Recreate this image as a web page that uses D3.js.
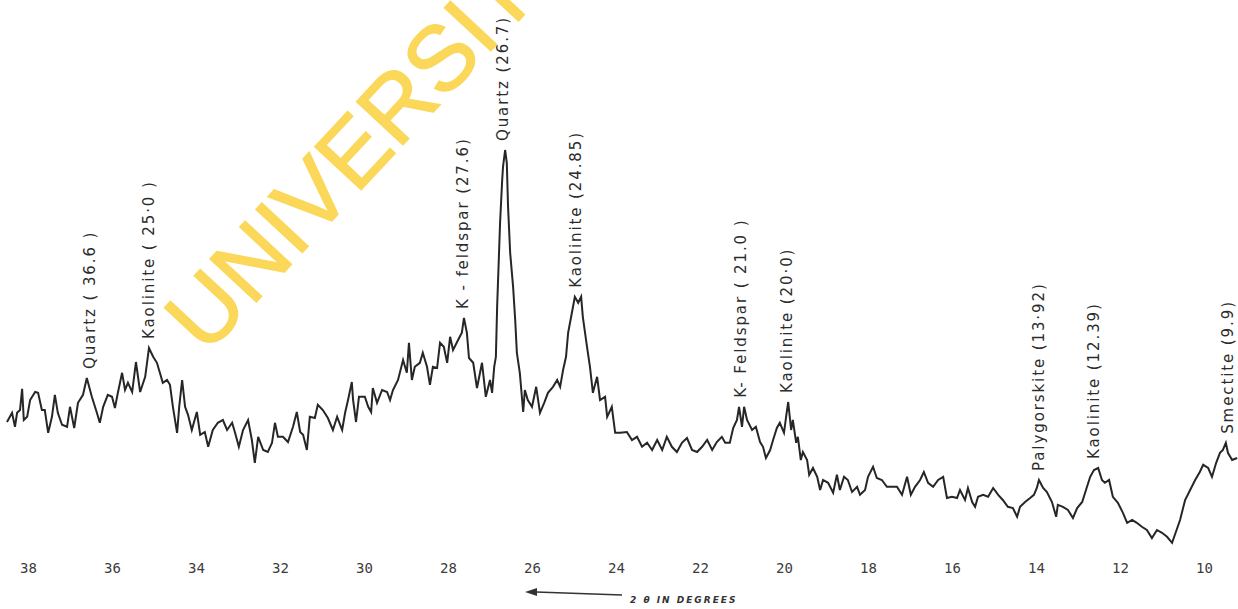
<!DOCTYPE html>
<html>
<head>
<meta charset="utf-8">
<script src="https://cdn.jsdelivr.net/npm/d3@7"></script>
<style>
body { margin: 0; background: #fff; }
svg { display: block; }
</style>
</head>
<body>
<div id="chart"></div>
<script>
var width = 1238, height = 609;

// diffractogram trace, 2-theta (deg) vs relative intensity
var twoTheta = [
    38.50, 38.38, 38.31, 38.26, 38.19, 38.14, 38.10, 38.02, 37.95, 37.83, 37.76, 37.67, 37.60, 37.52, 37.43, 37.36, 37.29, 37.19, 37.07, 37.00,
    36.90, 36.81, 36.69, 36.60, 36.48, 36.36, 36.29, 36.21, 36.10, 36.00, 35.93, 35.86, 35.76, 35.69, 35.62, 35.52, 35.43, 35.33, 35.21, 35.12,
    35.02, 34.93, 34.86, 34.79, 34.69, 34.62, 34.55, 34.45, 34.40, 34.33, 34.26, 34.19, 34.10, 33.98, 33.90, 33.79, 33.71, 33.60, 33.48, 33.36,
    33.26, 33.14, 33.07, 32.98, 32.88, 32.76,
    32.67, 32.60, 32.52, 32.40, 32.29, 32.19, 32.12, 32.05, 31.93, 31.81, 31.69, 31.60, 31.52, 31.45, 31.36, 31.29, 31.17, 31.10, 30.98, 30.86,
    30.74, 30.64, 30.52, 30.45, 30.38, 30.29, 30.26, 30.19, 30.12, 29.98, 29.90, 29.83, 29.79, 29.69, 29.57, 29.45, 29.38, 29.31, 29.19, 29.07,
    28.98, 28.93, 28.86, 28.79, 28.67, 28.60, 28.50, 28.43, 28.36, 28.26, 28.19, 28.10, 28.02, 27.95, 27.88, 27.76, 27.67, 27.62, 27.55, 27.50,
    27.40, 27.31, 27.19, 27.10, 27.00,
    26.95, 26.90, 26.86, 26.83, 26.76, 26.71, 26.69, 26.64, 26.60, 26.57, 26.52, 26.45, 26.40, 26.36, 26.29, 26.21, 26.17, 26.10, 26.00, 25.90,
    25.81, 25.71, 25.62, 25.50, 25.40, 25.33, 25.26, 25.19, 25.14, 25.05, 24.98, 24.90, 24.83, 24.79, 24.69, 24.62, 24.55, 24.45, 24.38, 24.26,
    24.21, 24.10, 24.02, 23.90, 23.74, 23.62, 23.50, 23.38, 23.26, 23.14, 23.02, 22.90, 22.79, 22.67, 22.55, 22.43, 22.31, 22.19, 22.07, 21.95,
    21.83, 21.71, 21.60, 21.48,
    21.40, 21.29, 21.21, 21.12, 21.07, 21.00, 20.95, 20.88, 20.76, 20.67, 20.57, 20.50, 20.43, 20.33, 20.26, 20.17, 20.10, 20.00, 19.95, 19.90,
    19.83, 19.79, 19.71, 19.67, 19.60, 19.55, 19.45, 19.40, 19.31, 19.21, 19.14, 19.07, 18.95, 18.83, 18.74, 18.67, 18.57, 18.48, 18.38, 18.26,
    18.19, 18.07, 18.00, 17.88, 17.79, 17.67, 17.55, 17.43, 17.31, 17.19, 17.07, 16.98, 16.88, 16.76, 16.67, 16.57, 16.45, 16.33, 16.21, 16.12,
    16.00, 15.88, 15.81, 15.69, 15.62, 15.52,
    15.45, 15.38, 15.26, 15.14, 15.02, 14.90, 14.79, 14.67, 14.55, 14.45, 14.38, 14.26, 14.14, 14.05, 13.98, 13.93, 13.83, 13.74, 13.62, 13.52,
    13.48, 13.36, 13.24, 13.12, 13.02, 12.90, 12.81, 12.71, 12.62, 12.52, 12.43, 12.36, 12.26, 12.17, 12.05, 11.93, 11.83, 11.71, 11.60, 11.48,
    11.36, 11.24, 11.12, 11.00, 10.88, 10.76, 10.67, 10.57, 10.45, 10.33, 10.21, 10.10, 10.02, 9.90, 9.81, 9.71, 9.62, 9.55, 9.48, 9.43,
    9.33, 9.21
];
var intensity = [
    31.5, 33.8, 30.3, 33.8, 34.5, 39.8, 32.0, 32.8, 37.0, 39.0, 38.8, 34.5, 34.5, 28.8, 32.8, 38.3, 33.8, 30.8, 30.3, 35.3,
    30.0, 36.3, 38.3, 42.5, 37.8, 33.8, 31.3, 35.3, 38.3, 37.8, 35.0, 38.8, 43.8, 39.5, 41.3, 39.0, 46.5, 39.0, 42.8, 50.0,
    47.8, 46.3, 43.8, 41.3, 42.0, 40.8, 35.3, 28.8, 35.3, 42.0, 35.3, 33.3, 29.5, 34.0, 28.3, 29.0, 25.3, 29.5, 31.3, 32.0,
    29.5, 31.3, 28.8, 25.3, 29.5, 32.0,
    27.0, 21.3, 27.8, 24.5, 24.0, 26.3, 31.3, 27.8, 27.8, 26.5, 30.3, 34.0, 29.0, 28.3, 24.5, 32.8, 32.5, 35.8, 34.5, 32.5,
    29.5, 32.8, 29.5, 33.8, 37.0, 41.5, 37.0, 31.5, 37.8, 37.8, 35.3, 34.0, 40.0, 36.3, 39.5, 39.0, 37.0, 39.5, 42.0, 47.0,
    43.8, 51.3, 42.0, 45.3, 46.3, 48.8, 45.3, 40.8, 45.3, 45.0, 51.3, 50.3, 46.3, 52.8, 49.5, 52.0, 53.8, 57.5, 53.8, 47.5,
    46.3, 40.0, 46.3, 37.8, 42.0,
    38.8, 45.3, 47.8, 60.3, 81.3, 92.0, 95.3, 99.5, 96.3, 85.3, 73.8, 65.3, 57.0, 48.8, 43.8, 34.0, 39.5, 37.0, 35.3, 40.3,
    33.8, 36.3, 38.8, 40.3, 42.0, 40.3, 44.5, 47.8, 53.8, 58.8, 62.8, 61.3, 62.8, 57.8, 50.3, 45.3, 38.8, 42.8, 37.0, 37.8,
    32.8, 35.3, 28.8, 28.8, 29.0, 27.0, 27.8, 25.3, 26.3, 24.5, 27.0, 24.5, 27.8, 25.3, 24.0, 26.3, 27.5, 24.5, 24.0, 25.3,
    27.0, 24.5, 26.5, 27.8,
    26.3, 26.3, 30.0, 32.0, 35.3, 30.3, 35.3, 32.0, 29.5, 30.3, 26.5, 25.3, 22.5, 24.5, 27.0, 30.0, 31.3, 28.8, 32.8, 36.5,
    29.5, 32.0, 26.3, 27.8, 22.0, 24.0, 22.0, 18.3, 20.0, 17.8, 14.5, 17.0, 16.3, 13.8, 18.3, 14.5, 17.8, 17.0, 14.0, 15.3,
    13.3, 14.5, 17.8, 20.3, 17.5, 17.0, 15.3, 15.3, 15.3, 13.3, 17.8, 13.3, 15.3, 17.0, 19.0, 16.3, 15.3, 17.0, 17.8, 12.5,
    12.8, 12.5, 14.5, 12.0, 15.0, 11.5,
    10.3, 12.8, 13.3, 12.8, 15.0, 13.3, 12.0, 10.3, 10.0, 7.8, 10.3, 11.5, 12.5, 13.3, 15.0, 17.0, 15.0, 14.0, 11.5, 7.8,
    10.8, 10.3, 9.5, 7.5, 10.0, 11.5, 14.5, 17.8, 19.5, 20.0, 17.0, 16.3, 17.0, 12.8, 11.3, 8.8, 6.3, 7.0, 6.3, 5.3,
    4.5, 2.5, 4.5, 3.8, 2.8, 1.3, 4.0, 7.0, 12.0, 14.5, 17.0, 19.0, 20.8, 20.0, 17.8, 21.3, 23.8, 24.5, 26.3, 23.8,
    22.0, 22.5
];

var tickValues = [38, 36, 34, 32, 30, 28, 26, 24, 22, 20, 18, 16, 14, 12, 10];

// peak annotations
var peakNames = ["Quartz ( 36.6 )", "Kaolinite ( 25·0 )", "K - feldspar (27.6)", "Quartz (26.7)", "Kaolinite (24.85)",
    "K- Feldspar ( 21.0 )", "Kaolinite (20·0)", "Palygorskite (13·92)", "Kaolinite (12.39)", "Smectite (9.9)"];
var peakAngles = [36.52, 35.12, 27.64, 26.69, 24.95, 21.02, 19.93, 13.93, 12.62, 9.43];

var axisTitle = "2 θ IN DEGREES";
var watermark = "UNIVERSITY";

var svg = d3.select("#chart").append("svg")
    .attr("width", width)
    .attr("height", height);

var x = d3.scaleLinear().domain([38, 10]).range([28, 1204]);
var y = d3.scaleLinear().domain([0, 100]).range([548, 148]);

var points = twoTheta.map(function(t, i) { return {t: t, v: intensity[i]}; });

var line = d3.line()
    .x(function(d) { return x(d.t); })
    .y(function(d) { return y(d.v); });

svg.append("path")
    .datum(points)
    .attr("d", line)
    .attr("fill", "none")
    .attr("stroke", "#262626")
    .attr("stroke-width", 2)
    .attr("stroke-linejoin", "miter");

// x axis: labels only, no line or ticks
var axis = svg.append("g")
    .attr("transform", "translate(0,548)")
    .call(d3.axisBottom(x).tickValues(tickValues).tickSize(0).tickPadding(15).tickFormat(d3.format("d")));
axis.select(".domain").remove();
axis.selectAll("text")
    .attr("font-family", "DejaVu Sans Mono")
    .attr("font-size", 14)
    .attr("fill", "#3c3c3c");

// peak labels sit just above the local maximum of the trace
var labels = peakNames.map(function(name, i) {
    var near = points.filter(function(p) { return Math.abs(p.t - peakAngles[i]) <= 0.12; });
    var top = d3.max(near, function(p) { return p.v; });
    return {name: name, t: peakAngles[i], v: top};
});

svg.selectAll(".peak-label")
    .data(labels)
    .enter().append("text")
    .attr("class", "peak-label")
    .attr("transform", function(d) { return "translate(" + x(d.t) + "," + (y(d.v) - 9) + ") rotate(-90)"; })
    .attr("dy", "0.35em")
    .attr("font-family", "DejaVu Sans")
    .attr("font-size", 15)
    .attr("letter-spacing", 1.9)
    .attr("fill", "#2b2b2b")
    .text(function(d) { return d.name; });

// axis title with arrow pointing to increasing 2-theta
var title = svg.append("g");
title.append("path")
    .attr("d", "M622,595 L536,592")
    .attr("stroke", "#333")
    .attr("stroke-width", 1.6)
    .attr("fill", "none");
title.append("path")
    .attr("d", "M525,592 L537,588 L537,596 Z")
    .attr("fill", "#333");
title.append("text")
    .attr("x", 630)
    .attr("y", 603)
    .attr("font-family", "DejaVu Sans")
    .attr("font-size", 9)
    .attr("font-weight", "bold")
    .attr("font-style", "italic")
    .attr("letter-spacing", 2)
    .attr("fill", "#333")
    .text(axisTitle);

// scanned-document watermark
svg.append("text")
    .attr("transform", "translate(206,356) rotate(-47)")
    .attr("font-family", "Liberation Sans")
    .attr("font-size", 92)
    .attr("fill", "#fbd75a")
    .attr("stroke", "#fbd75a")
    .attr("stroke-width", 1.5)
    .text(watermark);
</script>
</body>
</html>
